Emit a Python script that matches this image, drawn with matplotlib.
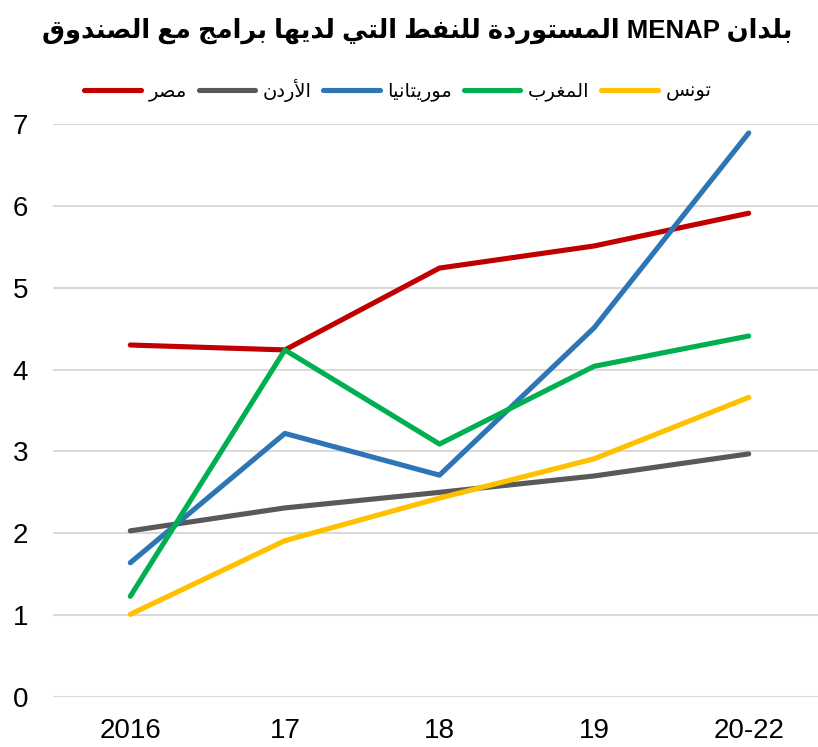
import matplotlib
matplotlib.use("Agg")
import matplotlib.pyplot as plt

# ---------------- data ----------------
categories = ["2016", "17", "18", "19", "20-22"]
series_names = ["مصر", "الأردن", "موريتانيا", "المغرب", "تونس"]
egypt = [4.30, 4.24, 5.24, 5.51, 5.91]
jordan = [2.03, 2.31, 2.50, 2.70, 2.97]
mauritania = [1.64, 3.22, 2.71, 4.51, 6.89]
morocco = [1.23, 4.24, 3.09, 4.04, 4.41]
tunisia = [1.01, 1.91, 2.43, 2.91, 3.66]
series_values = [egypt, jordan, mauritania, morocco, tunisia]
colors = ["#C00000", "#595959", "#2E75B6", "#00B050", "#FFC000"]
title = "بلدان MENAP المستوردة للنفط التي لديها برامج مع الصندوق"
yticks = [0, 1, 2, 3, 4, 5, 6, 7]

# ---------------- minimal Arabic shaping ----------------
# char: (isolated, final, initial, medial)
FORMS = {
    "\u0627": (0xFE8D, 0xFE8E, None, None),
    "\u0623": (0xFE83, 0xFE84, None, None),
    "\u0625": (0xFE87, 0xFE88, None, None),
    "\u0622": (0xFE81, 0xFE82, None, None),
    "\u0628": (0xFE8F, 0xFE90, 0xFE91, 0xFE92),
    "\u0629": (0xFE93, 0xFE94, None, None),
    "\u062A": (0xFE95, 0xFE96, 0xFE97, 0xFE98),
    "\u062C": (0xFE9D, 0xFE9E, 0xFE9F, 0xFEA0),
    "\u062F": (0xFEA9, 0xFEAA, None, None),
    "\u0631": (0xFEAD, 0xFEAE, None, None),
    "\u0633": (0xFEB1, 0xFEB2, 0xFEB3, 0xFEB4),
    "\u0635": (0xFEB9, 0xFEBA, 0xFEBB, 0xFEBC),
    "\u0637": (0xFEC1, 0xFEC2, 0xFEC3, 0xFEC4),
    "\u0639": (0xFEC9, 0xFECA, 0xFECB, 0xFECC),
    "\u063A": (0xFECD, 0xFECE, 0xFECF, 0xFED0),
    "\u0641": (0xFED1, 0xFED2, 0xFED3, 0xFED4),
    "\u0642": (0xFED5, 0xFED6, 0xFED7, 0xFED8),
    "\u0644": (0xFEDD, 0xFEDE, 0xFEDF, 0xFEE0),
    "\u0645": (0xFEE1, 0xFEE2, 0xFEE3, 0xFEE4),
    "\u0646": (0xFEE5, 0xFEE6, 0xFEE7, 0xFEE8),
    "\u0647": (0xFEE9, 0xFEEA, 0xFEEB, 0xFEEC),
    "\u0648": (0xFEED, 0xFEEE, None, None),
    "\u064A": (0xFEF1, 0xFEF2, 0xFEF3, 0xFEF4),
}
LAM_ALEF = {"\u0627": (0xFEFB, 0xFEFC), "\u0623": (0xFEF7, 0xFEF8),
            "\u0625": (0xFEF9, 0xFEFA), "\u0622": (0xFEF5, 0xFEF6)}


def shape_word(w):
    units = []
    i = 0
    while i < len(w):
        c = w[i]
        if c == "\u0644" and i + 1 < len(w) and w[i + 1] in LAM_ALEF:
            units.append(("LA", w[i + 1]))
            i += 2
        else:
            units.append(("C", c))
            i += 1

    def dual(u):
        if u[0] == "LA":
            return False
        f = FORMS.get(u[1])
        return f is not None and f[2] is not None

    def arabic(u):
        return u[0] == "LA" or u[1] in FORMS

    out = []
    for k, u in enumerate(units):
        prev_join = k > 0 and dual(units[k - 1]) and arabic(u)
        if u[0] == "LA":
            iso, fin = LAM_ALEF[u[1]]
            out.append(chr(fin if prev_join else iso))
            continue
        c = u[1]
        if c not in FORMS:
            out.append(c)
            continue
        f = FORMS[c]
        next_join = dual(u) and k + 1 < len(units) and arabic(units[k + 1])
        if prev_join and next_join:
            out.append(chr(f[3]))
        elif prev_join:
            out.append(chr(f[1]))
        elif next_join:
            out.append(chr(f[2]))
        else:
            out.append(chr(f[0]))
    return "".join(out)


def rtl(text):
    tokens = text.split(" ")
    vis = []
    for t in reversed(tokens):
        if any(ch in FORMS for ch in t):
            vis.append(shape_word(t)[::-1])
        else:
            vis.append(t)
    return " ".join(vis)


# ---------------- plot ----------------
W, H = 818, 747
fig = plt.figure(figsize=(W / 100, H / 100), dpi=100)
ax = fig.add_axes([53 / W, 1 - 697 / H, (826 - 53) / W, (697 - 124) / H])

x = list(range(len(categories)))
lines = []
for name, vals, col in zip(series_names, series_values, colors):
    (ln,) = ax.plot(x, vals, color=col, lw=3.7, solid_capstyle="round",
                    solid_joinstyle="round", label=rtl(name), clip_on=False)
    lines.append(ln)

ax.set_xlim(-0.5, len(categories) - 0.5)
ax.set_ylim(0, 7)
ax.set_yticks(yticks)
ax.set_xticks(x)
ax.set_xticklabels(categories)
ax.grid(axis="y", color="#D9D9D9", lw=1.5)
ax.set_axisbelow(True)
for s in ax.spines.values():
    s.set_visible(False)
ax.tick_params(axis="both", length=0, labelsize=20, colors="black")
ax.tick_params(axis="y", pad=18)
ax.tick_params(axis="x", pad=15)
for lab in ax.get_xticklabels() + ax.get_yticklabels():
    lab.set_fontfamily(["Liberation Sans", "DejaVu Sans"])

fig.text(417 / W, 1 - 31 / H, rtl(title), ha="center", va="center",
         fontsize=18.5, fontweight="bold",
         family=["Liberation Sans", "DejaVu Sans"])

leg = fig.legend(handles=lines, loc="center", ncol=5,
                 bbox_to_anchor=(398 / W, 1 - 90 / H), frameon=False,
                 prop={"family": ["DejaVu Sans"], "size": 14},
                 handlelength=2.9, columnspacing=0.6, handletextpad=0.4)

fig.savefig("out.png", dpi=100)
